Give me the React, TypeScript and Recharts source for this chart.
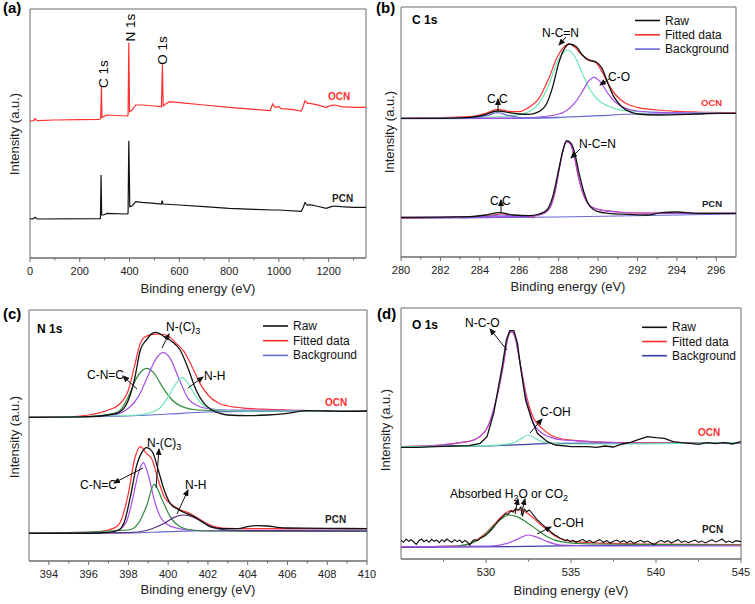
import React from "react";
import { ComposedChart, Line, XAxis, YAxis, ReferenceArea } from "recharts";

type P = [number, number];

const FONT = "'Liberation Sans', Arial, Helvetica, sans-serif";
const FRAME = "#6b6b6b";
const RAW = "#111111";
const FIT = "#ff3030";
const BG = "#6a6ad6";
const BG_DARK = "#3c3caa";
const CYAN = "#6ee8b4";
const PURPLE = "#a64ee6";
const GREEN = "#2f8a3a";
const DARK_PURPLE = "#5b2d82";

// ---- (a) survey spectra ----
const surveyOcn: P[] = [
  [0, 411], [15, 412], [20, 418], [30, 412], [100, 414], [200, 415], [280, 416], [284, 419],
  [287, 512], [289, 422], [295, 424], [310, 429], [390, 426], [394, 428], [397, 646], [400, 439],
  [410, 444], [425, 459], [450, 459], [500, 456], [528, 454], [532, 581], [535, 456], [545, 462],
  [560, 469], [600, 466], [700, 459], [800, 452], [900, 446], [965, 442], [975, 462], [985, 452],
  [1000, 454], [1010, 448], [1050, 446], [1090, 441], [1098, 456], [1105, 472], [1115, 464],
  [1125, 464], [1150, 460], [1190, 452], [1210, 458], [1225, 459], [1250, 454], [1300, 452], [1350, 452],
];
const surveyPcn: P[] = [
  [0, 117], [15, 118], [20, 122], [30, 117], [280, 118], [283, 119], [285.5, 249], [288, 129],
  [295, 129], [310, 134], [390, 132], [394, 134], [397, 352], [401, 154], [410, 156], [425, 169],
  [450, 167], [500, 164], [528, 162], [531, 172], [534, 162], [600, 159], [700, 154], [800, 149],
  [900, 146], [975, 144], [1000, 144], [1090, 140], [1098, 152], [1105, 166], [1115, 158],
  [1125, 160], [1150, 156], [1190, 149], [1210, 154], [1225, 156], [1250, 154], [1300, 152], [1350, 152],
];

// ---- (b) C 1s ----
const c1sOcnRaw: P[] = [
  [280, 416], [282, 416], [283.5, 419], [284.2, 426], [284.9, 438], [285.5, 433], [286, 429],
  [286.5, 428], [287, 436], [287.4, 461], [287.7, 511], [288, 581], [288.3, 626], [288.55, 639],
  [288.9, 631], [289.2, 606], [289.5, 591], [289.9, 585], [290.2, 566], [290.5, 521], [290.8, 481],
  [291.2, 451], [291.6, 436], [292, 429], [293, 426], [294, 427], [295, 429], [296, 431], [297, 431],
];
const c1sOcnFit: P[] = [
  [280, 416], [283.5, 421], [284.3, 431], [284.9, 443], [285.5, 437], [286, 436], [286.5, 449],
  [287, 476], [287.5, 536], [287.9, 596], [288.2, 626], [288.5, 639], [288.8, 631], [289.1, 611],
  [289.5, 593], [289.9, 583], [290.2, 556], [290.5, 521], [290.9, 486], [291.4, 461], [292, 449],
  [293, 441], [294, 437], [295, 435], [297, 433],
];
const c1sOcnNCN: P[] = [
  [280, 416], [284, 419], [285.5, 423], [286.5, 436], [287, 461], [287.5, 516], [287.9, 581],
  [288.2, 611], [288.45, 621], [288.8, 603], [289.2, 551], [289.6, 501], [290, 471], [290.5, 453],
  [291, 443], [292, 436], [294, 433], [297, 431],
];
const c1sOcnCO: P[] = [
  [280, 416], [286, 417], [287.5, 423], [288.3, 436], [288.8, 461], [289.2, 496], [289.5, 526],
  [289.8, 539], [290.1, 526], [290.5, 491], [290.9, 463], [291.4, 446], [292, 438], [293, 434], [297, 431],
];
const c1sOcnCC: P[] = [
  [282, 416], [283.5, 417], [284.4, 425], [284.9, 433], [285.4, 425], [286.3, 417], [288, 418],
];
const c1sOcnBg: P[] = [[280, 415], [286, 416], [288, 419], [290, 424], [292, 429], [297, 431]];
const c1sPcnRaw: P[] = [
  [280, 119], [283.5, 121], [284.3, 126], [285, 133], [285.7, 126], [286.5, 124], [287, 129],
  [287.4, 141], [287.7, 181], [288, 261], [288.2, 316], [288.4, 349], [288.6, 343], [288.8, 316],
  [289, 261], [289.3, 191], [289.6, 151], [290, 136], [290.5, 131], [291.5, 128], [292.5, 126],
  [293.2, 133], [294, 135], [295, 131], [297, 131],
];
const c1sPcnFit: P[] = [
  [280, 117], [284.3, 123], [285.1, 129], [285.8, 123], [286.5, 121], [287, 126], [287.5, 143],
  [287.8, 191], [288.05, 271], [288.25, 326], [288.4, 346], [288.6, 339], [288.8, 301], [289, 241],
  [289.3, 181], [289.6, 153], [290, 143], [291, 135], [292, 132], [294, 131], [297, 131],
];
const c1sPcnNCN: P[] = [
  [280, 119], [286, 121], [287, 126], [287.5, 143], [287.8, 191], [288.05, 271], [288.25, 326],
  [288.4, 346], [288.6, 339], [288.8, 301], [289, 241], [289.3, 181], [289.6, 153], [290, 143],
  [291, 135], [292, 132], [294, 131], [297, 131],
];
const c1sPcnCC: P[] = [[283, 117], [284.3, 121], [285.1, 126], [285.9, 121], [286.8, 118]];
const c1sPcnBg: P[] = [[280, 116], [288, 120], [297, 129]];

// ---- (c) N 1s ----
const n1sOcnRaw: P[] = [
  [393, 431], [396, 433], [397, 438], [397.5, 445], [398, 483], [398.3, 543], [398.6, 633],
  [398.9, 663], [399.2, 683], [399.4, 686], [399.8, 673], [400.2, 658], [400.6, 633], [401, 578],
  [401.4, 513], [401.8, 473], [402.2, 453], [402.6, 443], [403, 438], [404, 436], [405, 438],
  [406, 443], [407, 451], [408, 450], [409, 449], [410, 450],
];
const n1sOcnFit: P[] = [
  [393, 431], [395, 433], [396, 438], [397, 453], [397.5, 468], [398, 513], [398.3, 583],
  [398.6, 653], [398.8, 671], [399.2, 680], [399.6, 681], [400, 675], [400.4, 653], [400.8, 628],
  [401.2, 583], [401.6, 533], [402, 498], [402.5, 475], [403, 465], [404, 458], [405, 455],
  [406, 453], [408, 451], [410, 451],
];
const n1sOcnCNC: P[] = [
  [393, 431], [396, 433], [397, 440], [397.5, 448], [398, 493], [398.4, 548], [398.9, 578],
  [399.3, 563], [399.7, 523], [400.2, 483], [400.8, 461], [401.5, 453], [402.5, 451], [410, 450],
];
const n1sOcnNC3: P[] = [
  [393, 431], [397, 435], [398, 458], [398.5, 493], [399, 558], [399.4, 608], [399.75, 625],
  [400.1, 608], [400.5, 553], [401, 488], [401.5, 465], [402, 457], [403, 453], [410, 450],
];
const n1sOcnNH: P[] = [
  [393, 431], [398.5, 438], [399.5, 455], [400, 493], [400.4, 533], [400.7, 550], [401, 533],
  [401.4, 493], [401.8, 465], [402.5, 453], [404, 450], [410, 450],
];
const n1sOcnBg: P[] = [[393, 431], [398, 435], [400, 441], [402, 447], [404, 449], [410, 450]];
const n1sPcnRaw: P[] = [
  [393, 83], [396, 83], [397, 86], [397.5, 93], [397.8, 118], [398.1, 193], [398.4, 283],
  [398.7, 328], [398.9, 340], [399.2, 328], [399.5, 273], [399.8, 213], [400.1, 173], [400.5, 155],
  [400.9, 143], [401.3, 133], [401.7, 118], [402.1, 103], [402.5, 98], [403, 97], [403.5, 97],
  [404, 103], [404.5, 106], [405, 105], [405.5, 101], [406, 99], [408, 98], [410, 97],
];
const n1sPcnFit: P[] = [
  [393, 83], [396, 85], [397, 93], [397.5, 108], [398, 203], [398.3, 303], [398.6, 343],
  [398.9, 323], [399.2, 303], [399.5, 243], [399.8, 193], [400.2, 168], [400.7, 151], [401, 145],
  [401.5, 128], [402, 111], [402.5, 101], [403, 98], [404, 97], [410, 97],
];
const n1sPcnCNC: P[] = [
  [393, 83], [397, 86], [397.5, 93], [397.9, 118], [398.2, 183], [398.5, 263], [398.75, 295],
  [399, 258], [399.3, 183], [399.6, 133], [400, 108], [400.5, 98], [401, 93], [402, 91], [410, 89],
];
const n1sPcnNC3: P[] = [
  [393, 83], [398, 93], [398.5, 113], [398.9, 163], [399.3, 230], [399.7, 183], [400.1, 133],
  [400.6, 103], [401.2, 93], [402, 90], [410, 89],
];
const n1sPcnNH: P[] = [
  [393, 83], [398, 85], [399, 93], [399.8, 113], [400.3, 131], [400.75, 138], [401.3, 131],
  [401.8, 115], [402.3, 100], [403, 93], [404, 91], [410, 90],
];
const n1sPcnBg: P[] = [[393, 83], [398, 84], [400, 88], [402, 91], [410, 93]];

// ---- (d) O 1s ----
const o1sOcnRaw: P[] = [
  [525, 335], [526, 335], [527, 337], [528, 339], [529, 340], [529.66, 347], [530.06, 367],
  [530.45, 437], [530.95, 577], [531.2, 657], [531.4, 685], [531.64, 685], [531.85, 647],
  [532.03, 577], [532.33, 477], [532.7, 417], [533.02, 377], [533.6, 352], [534.1, 342], [535, 337],
  [536, 337], [536.5, 335], [537, 339], [537.5, 336], [538, 345], [538.5, 350], [539, 359],
  [539.5, 367], [540, 364], [540.5, 362], [541, 352], [541.5, 349], [542, 347], [542.5, 344],
  [543, 349], [543.5, 346], [544, 349], [544.5, 345], [545, 352],
];
const o1sOcnNCO: P[] = [
  [525, 337], [527.3, 342], [528.5, 349], [529.27, 357], [530, 387], [530.5, 457], [531, 577],
  [531.3, 667], [531.5, 682], [531.7, 667], [532, 587], [532.39, 477], [532.8, 407], [533.3, 377],
  [533.8, 365], [534.5, 357], [535.2, 355], [537.2, 350], [540, 347], [545, 347],
];
const o1sOcnFit: P[] = [
  [525, 337], [527.3, 342], [528.5, 349], [529.27, 357], [530, 387], [530.5, 457], [531, 577],
  [531.3, 667], [531.5, 682], [531.7, 667], [532, 590], [532.39, 487], [532.8, 422], [533.3, 392],
  [533.8, 372], [534.5, 360], [535.2, 356], [537.2, 350], [540, 348], [545, 347],
];
const o1sOcnCOH: P[] = [
  [525, 337], [530, 340], [531.5, 347], [532, 359], [532.47, 372], [533, 359], [533.5, 349],
  [534.5, 345], [537, 345], [545, 349],
];
const o1sOcnBg: P[] = [[525, 337], [530, 339], [532, 343], [534, 347], [545, 349]];
const o1sPcnRaw: P[] = [
  [525, 56], [525.15, 50], [525.3, 60], [525.45, 53], [525.6, 58], [525.75, 51], [525.9, 44],
  [526.05, 55], [526.2, 60], [526.35, 52], [526.5, 57], [526.65, 50], [526.8, 59], [526.95, 53],
  [527.1, 57], [527.25, 49], [527.4, 58], [527.55, 52], [527.7, 60], [527.85, 54], [528, 50],
  [528.15, 58], [528.3, 52], [528.45, 57], [528.6, 49], [528.75, 56], [528.9, 51], [529.05, 41],
  [529.2, 54], [529.35, 58], [529.5, 55], [529.65, 62], [529.8, 66], [529.95, 70], [530.1, 76],
  [530.25, 84], [530.4, 92], [530.55, 102], [530.7, 113], [530.85, 120], [531, 127], [531.15, 136],
  [531.3, 134], [531.45, 144], [531.6, 141], [531.75, 152], [531.9, 146], [532.05, 156],
  [532.15, 128], [532.25, 150], [532.4, 142], [532.55, 147], [532.7, 138], [532.85, 128],
  [533, 118], [533.15, 112], [533.3, 104], [533.45, 98], [533.6, 90], [533.75, 84], [533.9, 78],
  [534.05, 72], [534.2, 68], [534.35, 62], [534.5, 60], [534.65, 55], [534.8, 58], [534.95, 52],
  [535.1, 56], [535.3, 50], [535.5, 55], [535.7, 59], [535.9, 51], [536.1, 56], [536.3, 49],
  [536.5, 54], [536.7, 58], [536.9, 50], [537.1, 55], [537.3, 48], [537.5, 53], [537.7, 57],
  [537.9, 50], [538.1, 55], [538.3, 49], [538.5, 54], [538.7, 47], [538.9, 52], [539.1, 56],
  [539.3, 50], [539.5, 54], [539.7, 48], [539.9, 44], [540.1, 51], [540.3, 56], [540.5, 50],
  [540.7, 55], [540.9, 48], [541.1, 53], [541.3, 58], [541.5, 50], [541.7, 54], [541.9, 49],
  [542.1, 53], [542.3, 57], [542.5, 50], [542.7, 54], [542.9, 48], [543.1, 53], [543.3, 58],
  [543.5, 51], [543.7, 55], [543.9, 60], [544.1, 50], [544.3, 54], [544.5, 49], [544.7, 55], [545, 52],
];
const o1sPcnFit: P[] = [
  [525, 37], [528.28, 39], [529.27, 52], [529.86, 72], [530.45, 102], [530.95, 129], [531.44, 145],
  [531.96, 147], [532.44, 137], [533.02, 112], [533.61, 87], [534.2, 65], [534.79, 55],
  [536.17, 49], [539.13, 45], [545, 43],
];
const o1sPcnH2O: P[] = [
  [525, 37], [528.28, 39], [529.27, 50], [529.86, 69], [530.45, 99], [530.95, 122], [531.34, 132],
  [531.83, 127], [532.42, 109], [533.02, 87], [533.6, 67], [534.4, 52], [536.17, 45], [545, 42],
];
const o1sPcnCOH: P[] = [
  [525, 37], [530.26, 39], [531.24, 47], [531.83, 59], [532.47, 72], [533.02, 65], [533.61, 52],
  [534.4, 42], [537.16, 39], [545, 39],
];
const o1sPcnBg: P[] = [[525, 35], [531.5, 37], [535.3, 40], [545, 43]];

interface Series {
  data: P[];
  color: string;
  width?: number;
  curve?: "linear" | "monotone";
}

interface PanelProps {
  left: number;
  top: number;
  width: number;
  height: number;
  margin: { top: number; right: number; bottom: number; left: number };
  xDomain: [number, number];
  yMax: number;
  ticks: number[];
  labelled: number[];
  series: Series[];
}

function Panel({ left, top, width, height, margin, xDomain, yMax, ticks, labelled, series }: PanelProps) {
  const axisY = height - margin.bottom;
  // the x axis gets a 1px band so recharts still renders its ticks
  const chartMargin = { ...margin, bottom: margin.bottom - 1 };
  const renderTick = (t: any) => {
    const v = t.payload.value;
    const major = labelled.includes(v);
    return (
      <g>
        <line x1={t.x} x2={t.x} y1={axisY} y2={axisY + (major ? 4 : 2.5)} stroke={FRAME} />
        {major && (
          <text x={t.x} y={axisY + 17} textAnchor="middle" fontSize={11} fill="#222" fontFamily={FONT}>
            {v}
          </text>
        )}
      </g>
    );
  };
  return (
    <div style={{ position: "absolute", left, top }}>
      <ComposedChart width={width} height={height} margin={chartMargin}>
        <XAxis
          type="number"
          dataKey="x"
          domain={xDomain}
          ticks={ticks}
          interval={0}
          allowDataOverflow
          height={1}
          tickSize={0}
          tickMargin={0}
          tickLine={false}
          axisLine={{ stroke: FRAME }}
          tick={renderTick}
        />
        <YAxis type="number" domain={[0, yMax]} hide allowDataOverflow />
        <ReferenceArea
          x1={xDomain[0]}
          x2={xDomain[1]}
          y1={0}
          y2={yMax}
          fill="none"
          fillOpacity={0}
          stroke={FRAME}
          strokeWidth={1}
        />
        {series.map((s, i) => (
          <Line
            key={i}
            data={s.data.map(([x, y]) => ({ x, y }))}
            dataKey="y"
            type={s.curve ?? "monotone"}
            stroke={s.color}
            strokeWidth={s.width ?? 1.2}
            dot={false}
            activeDot={false}
            isAnimationActive={false}
          />
        ))}
      </ComposedChart>
    </div>
  );
}

function Arrow({ x1, y1, x2, y2 }: { x1: number; y1: number; x2: number; y2: number }) {
  return <line x1={x1} y1={y1} x2={x2} y2={y2} stroke="#111" strokeWidth={1} markerEnd="url(#ah)" />;
}

function LegendBlock({ x, y, gap, bg }: { x: number; y: number; gap: number; bg: string }) {
  const rows = [
    { label: "Raw", color: RAW },
    { label: "Fitted data", color: FIT },
    { label: "Background", color: bg },
  ];
  return (
    <g>
      {rows.map((r, i) => (
        <g key={r.label}>
          <line x1={x} x2={x + 25} y1={y + i * gap} y2={y + i * gap} stroke={r.color} strokeWidth={1.6} />
          <text x={x + 30} y={y + i * gap + 4} fontSize={12} fill="#111">
            {r.label}
          </text>
        </g>
      ))}
    </g>
  );
}

function Overlay() {
  const vtitle = (x: number, y: number) => (
    <text x={x} y={y} fontSize={13} textAnchor="middle" transform={`rotate(-90 ${x} ${y})`} fill="#222">
      Intensity (a.u.)
    </text>
  );
  const htitle = (x: number, y: number) => (
    <text x={x} y={y} fontSize={13} textAnchor="middle" fill="#222">
      Binding energy (eV)
    </text>
  );
  return (
    <svg
      width={755}
      height={604}
      style={{ position: "absolute", left: 0, top: 0, pointerEvents: "none" }}
      fontFamily={FONT}
    >
      <defs>
        <marker id="ah" markerUnits="userSpaceOnUse" markerWidth={7} markerHeight={6} refX={6} refY={3} orient="auto">
          <path d="M0,0 L7,3 L0,6 z" fill="#111" />
        </marker>
      </defs>

      {/* panel letters */}
      <text x={3} y={12.5} fontSize={15} fontWeight="bold">(a)</text>
      <text x={376} y={12.5} fontSize={15} fontWeight="bold">(b)</text>
      <text x={3} y={319} fontSize={15} fontWeight="bold">(c)</text>
      <text x={377} y={319} fontSize={15} fontWeight="bold">(d)</text>

      {vtitle(19, 134)}
      {vtitle(394, 132)}
      {vtitle(19, 437)}
      {vtitle(390, 430)}
      {htitle(198, 293)}
      {htitle(568, 291)}
      {htitle(198, 594)}
      {htitle(571, 595)}

      {/* (a) */}
      <text x={108} y={74} fontSize={13.5} textAnchor="middle" transform="rotate(-90 108 74)">C 1s</text>
      <text x={135} y={27.5} fontSize={13.5} textAnchor="middle" transform="rotate(-90 135 27.5)">N 1s</text>
      <text x={167} y={50.5} fontSize={13.5} textAnchor="middle" transform="rotate(-90 167 50.5)">O 1s</text>
      <text x={328} y={100} fontSize={10} fontWeight="bold" fill={FIT}>OCN</text>
      <text x={332} y={202} fontSize={10} fontWeight="bold" fill="#222">PCN</text>

      {/* (b) */}
      <text x={412} y={24} fontSize={12} fontWeight="bold">C 1s</text>
      <text x={542} y={37} fontSize={12}>N-C=N</text>
      <Arrow x1={566} y1={37} x2={559} y2={45} />
      <text x={608} y={81} fontSize={12}>C-O</text>
      <Arrow x1={609} y1={79} x2={600} y2={85} />
      <text x={487} y={103} fontSize={12}>C C</text>
      <Arrow x1={498} y1={111} x2={498} y2={99} />
      <text x={579} y={148} fontSize={12}>N-C=N</text>
      <Arrow x1={580} y1={149} x2={571} y2={158} />
      <text x={490} y={205} fontSize={12}>C C</text>
      <Arrow x1={501} y1={213} x2={501} y2={200} />
      <text x={701} y={106} fontSize={9.5} fontWeight="bold" fill={FIT}>OCN</text>
      <text x={702} y={206.5} fontSize={9.5} fontWeight="bold" fill="#222">PCN</text>
      <LegendBlock x={635} y={20.5} gap={14.3} bg={BG} />

      {/* (c) */}
      <text x={37} y={333} fontSize={12} fontWeight="bold">N 1s</text>
      <text x={166} y={331} fontSize={12}>
        N-(C)<tspan fontSize={9} dy={3}>3</tspan>
      </text>
      <Arrow x1={162} y1={348} x2={169} y2={334} />
      <text x={87} y={379} fontSize={12}>C-N=C</text>
      <Arrow x1={137} y1={389} x2={123} y2={376} />
      <text x={204} y={380} fontSize={12}>N-H</text>
      <Arrow x1={188} y1={388} x2={203} y2={377} />
      <text x={325} y={406} fontSize={10} fontWeight="bold" fill={FIT}>OCN</text>
      <text x={147} y={447} fontSize={12}>
        N-(C)<tspan fontSize={9} dy={3}>3</tspan>
      </text>
      <Arrow x1={156} y1={488} x2={159} y2={449} />
      <text x={80} y={489} fontSize={12}>C-N=C</text>
      <Arrow x1={143} y1={468} x2={114} y2={483} />
      <text x={185} y={489} fontSize={12}>N-H</text>
      <Arrow x1={177} y1={514} x2={188} y2={490} />
      <text x={325} y={523} fontSize={10} fontWeight="bold" fill="#222">PCN</text>
      <LegendBlock x={263} y={326} gap={14.7} bg={BG} />

      {/* (d) */}
      <text x={412} y={329} fontSize={12} fontWeight="bold">O 1s</text>
      <text x={465} y={327} fontSize={12}>N-C-O</text>
      <Arrow x1={507} y1={350} x2={490} y2={329} />
      <text x={540} y={416} fontSize={12}>C-OH</text>
      <Arrow x1={530} y1={433} x2={542} y2={419} />
      <text x={698} y={436} fontSize={10} fontWeight="bold" fill={FIT}>OCN</text>
      <text x={450} y={498} fontSize={12}>
        Absorbed H<tspan fontSize={9} dy={3}>2</tspan>
        <tspan dy={-3}>O or CO</tspan>
        <tspan fontSize={9} dy={3}>2</tspan>
      </text>
      <Arrow x1={515} y1={514} x2={518} y2={499} />
      <Arrow x1={521} y1={515} x2={525} y2={499} />
      <text x={553} y={527} fontSize={12}>C-OH</text>
      <Arrow x1={537} y1={534} x2={551} y2={527} />
      <text x={702} y={533} fontSize={10} fontWeight="bold" fill="#222">PCN</text>
      <LegendBlock x={642} y={327.3} gap={14.2} bg={BG_DARK} />
    </svg>
  );
}

const range = (a: number, b: number, s: number) => {
  const out: number[] = [];
  for (let v = a; v <= b + 1e-9; v += s) out.push(Math.round(v * 100) / 100);
  return out;
};

export default function App() {
  return (
    <div
      style={{
        position: "absolute",
        left: 0,
        top: 0,
        width: 755,
        height: 604,
        background: "#fff",
        fontFamily: FONT,
      }}
    >
      <Panel
        left={0}
        top={0}
        width={377}
        height={300}
        margin={{ top: 9, right: 11, bottom: 42, left: 30 }}
        xDomain={[0, 1350]}
        yMax={747}
        ticks={range(0, 1300, 100)}
        labelled={range(0, 1200, 200)}
        series={[
          { data: surveyOcn, color: FIT, curve: "linear" },
          { data: surveyPcn, color: RAW, curve: "linear" },
        ]}
      />
      <Panel
        left={377}
        top={0}
        width={378}
        height={300}
        margin={{ top: 7, right: 19, bottom: 43, left: 24 }}
        xDomain={[280, 297]}
        yMax={750}
        ticks={range(280, 296, 1)}
        labelled={range(280, 296, 2)}
        series={[
          { data: c1sOcnBg, color: BG },
          { data: c1sOcnFit, color: FIT },
          { data: c1sOcnNCN, color: CYAN },
          { data: c1sOcnCO, color: PURPLE },
          { data: c1sOcnCC, color: BG },
          { data: c1sOcnRaw, color: RAW, width: 1.3 },
          { data: c1sPcnBg, color: BG },
          { data: c1sPcnFit, color: FIT },
          { data: c1sPcnCC, color: BG },
          { data: c1sPcnNCN, color: PURPLE },
          { data: c1sPcnRaw, color: RAW, width: 1.3 },
        ]}
      />
      <Panel
        left={0}
        top={300}
        width={377}
        height={304}
        margin={{ top: 10, right: 10, bottom: 43, left: 29 }}
        xDomain={[393, 410]}
        yMax={753}
        ticks={range(394, 410, 1)}
        labelled={range(394, 410, 2)}
        series={[
          { data: n1sOcnBg, color: BG },
          { data: n1sOcnFit, color: FIT },
          { data: n1sOcnCNC, color: GREEN },
          { data: n1sOcnNC3, color: PURPLE },
          { data: n1sOcnNH, color: CYAN },
          { data: n1sOcnRaw, color: RAW, width: 1.3 },
          { data: n1sPcnBg, color: BG },
          { data: n1sPcnFit, color: FIT },
          { data: n1sPcnCNC, color: PURPLE },
          { data: n1sPcnNC3, color: GREEN },
          { data: n1sPcnNH, color: DARK_PURPLE },
          { data: n1sPcnRaw, color: RAW, width: 1.3 },
        ]}
      />
      <Panel
        left={377}
        top={300}
        width={378}
        height={304}
        margin={{ top: 8, right: 14, bottom: 45, left: 24 }}
        xDomain={[525, 545]}
        yMax={753}
        ticks={range(527.5, 545, 2.5)}
        labelled={[530, 535, 540, 545]}
        series={[
          { data: o1sOcnBg, color: BG_DARK },
          { data: o1sOcnFit, color: FIT },
          { data: o1sOcnNCO, color: PURPLE },
          { data: o1sOcnCOH, color: CYAN },
          { data: o1sOcnRaw, color: RAW, width: 1.3, curve: "linear" },
          { data: o1sPcnBg, color: BG_DARK },
          { data: o1sPcnFit, color: FIT },
          { data: o1sPcnH2O, color: GREEN },
          { data: o1sPcnCOH, color: PURPLE },
          { data: o1sPcnRaw, color: RAW, width: 1.1, curve: "linear" },
        ]}
      />
      <Overlay />
    </div>
  );
}
